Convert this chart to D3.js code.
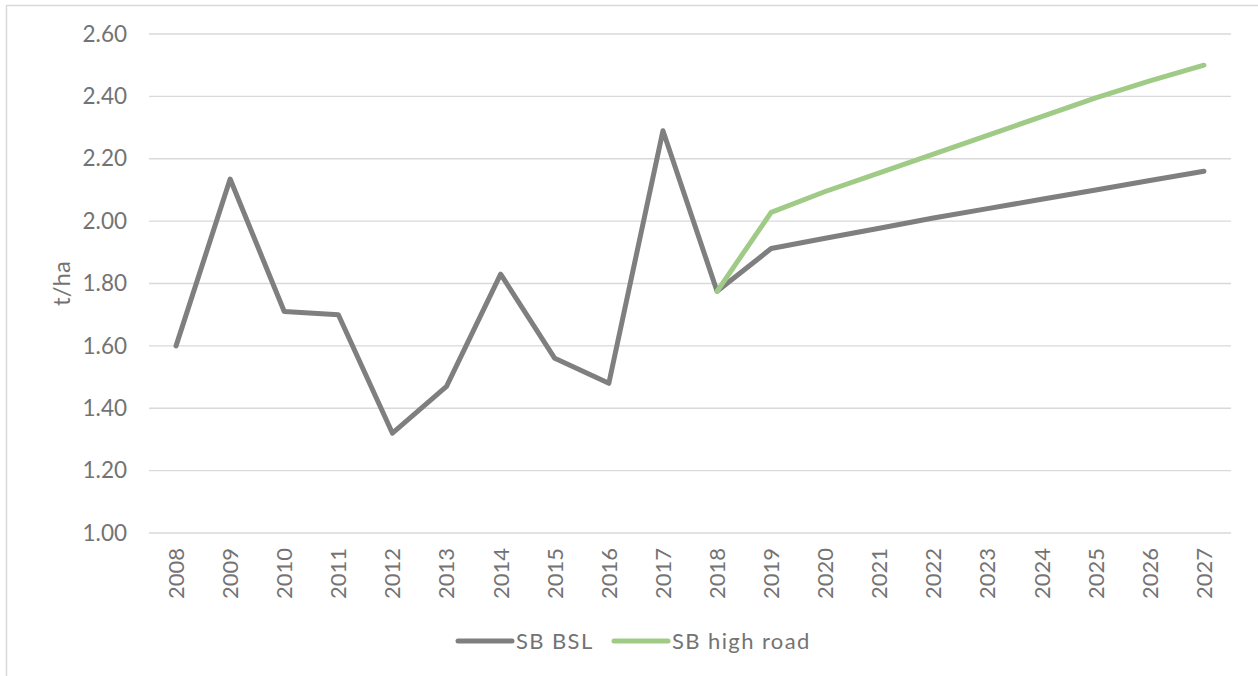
<!DOCTYPE html>
<html><head><meta charset="utf-8">
<script src="https://cdn.jsdelivr.net/npm/d3@7"></script>
<style>body{margin:0;background:#fff}svg{display:block}text{font-family:"Lato","Open Sans",sans-serif;fill:#737373}</style>
</head><body>
<script>
const years = ["2008","2009","2010","2011","2012","2013","2014","2015","2016","2017","2018","2019","2020","2021","2022","2023","2024","2025","2026","2027"];
const bsl = [1.60,2.135,1.71,1.70,1.32,1.47,1.83,1.56,1.48,2.29,1.775,1.912,1.945,1.977,2.01,2.04,2.07,2.10,2.13,2.16];
const highRoad = [null,null,null,null,null,null,null,null,null,null,1.775,2.028,2.095,2.155,2.215,2.275,2.335,2.395,2.45,2.50];
const yTicks = [1.00,1.20,1.40,1.60,1.80,2.00,2.20,2.40,2.60];
const seriesNames = ["SB BSL","SB high road"];
const colors = ["#7f7f7f","#9fcb87"];

(function(){
const W=1258,H=676;
const FF='"Lato","Open Sans",sans-serif';
const svg=d3.select("body").append("svg").attr("width",W).attr("height",H);
svg.append("path").attr("d",`M6.5,${H} V5.5 H${W}`).attr("fill","none").attr("stroke","#d9d9d9").attr("stroke-width",1.5);

const pL=149,pR=1231,pT=34,pB=533;
const x=d3.scaleBand().domain(years).range([pL,pR]);
const y=d3.scaleLinear().domain([1,2.6]).range([pB,pT]);

svg.append("g").selectAll("line").data(yTicks).join("line")
 .attr("x1",pL).attr("x2",pR).attr("y1",d=>y(d)).attr("y2",d=>y(d))
 .attr("stroke","#d9d9d9").attr("stroke-width",1.3);

const ya=svg.append("g").attr("transform",`translate(${pL},0)`)
 .call(d3.axisLeft(y).tickValues(yTicks).tickFormat(d3.format(".2f")).tickSize(0).tickPadding(22));
ya.select(".domain").remove();
ya.selectAll("text").attr("font-size",22.5).attr("fill","#737373").style("font-family",FF);

const xa=svg.append("g").attr("transform",`translate(0,${pB})`)
 .call(d3.axisBottom(x).tickSize(0).tickPadding(0));
xa.select(".domain").remove();
xa.selectAll("text").attr("font-size",22).attr("fill","#737373").style("font-family",FF)
 .attr("text-anchor","end").attr("transform","rotate(-90)").attr("x",-15).attr("y",0).attr("dy","0.36em");

svg.append("text").attr("transform",`translate(70,${(pT+pB)/2}) rotate(-90)`)
 .attr("text-anchor","middle").attr("font-size",24).text("t/ha");

const line=d3.line().defined(d=>d.v!=null).x(d=>x(d.k)+x.bandwidth()/2).y(d=>y(d.v));
[bsl,highRoad].forEach((s,i)=>{
 svg.append("path").datum(years.map((k,j)=>({k,v:s[j]})))
  .attr("d",line).attr("fill","none").attr("stroke",colors[i]).attr("stroke-width",5)
  .attr("stroke-linecap","round").attr("stroke-linejoin","round");
});

const lx=[458,614];
seriesNames.forEach((n,i)=>{
 svg.append("line").attr("x1",lx[i]).attr("x2",lx[i]+54).attr("y1",641).attr("y2",641)
  .attr("stroke",colors[i]).attr("stroke-width",5).attr("stroke-linecap","round");
 svg.append("text").attr("x",lx[i]+58).attr("y",649).attr("font-size",22).attr("letter-spacing",1.4).text(n);
});
})();
</script>
</body></html>
